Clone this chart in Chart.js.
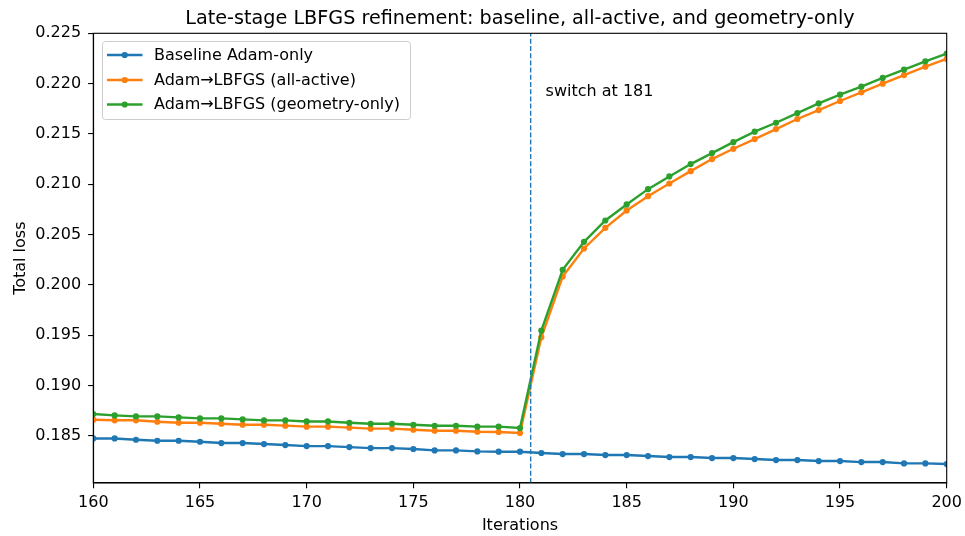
<!DOCTYPE html>
<html>
<head>
<meta charset="utf-8">
<script src="https://cdn.jsdelivr.net/npm/chart.js@4.4.1/dist/chart.umd.min.js"></script>
<style>
  html, body { margin: 0; padding: 0; background: #fff; }
  #wrap { width: 965px; height: 536px; }
</style>
</head>
<body>
<div id="wrap"><canvas id="c" width="965" height="536"></canvas></div>
<script>
// ---- Data ----
const iterations = [160,161,162,163,164,165,166,167,168,169,170,171,172,173,174,175,176,177,178,179,180,
                    181,182,183,184,185,186,187,188,189,190,191,192,193,194,195,196,197,198,199,200];
const baseline = [0.18473,0.18473,0.18460,0.18450,0.18450,0.18440,0.18427,0.18427,0.18417,0.18407,0.18397,
                  0.18397,0.18387,0.18377,0.18377,0.18368,0.18354,0.18354,0.18344,0.18341,0.18341,
                  0.18328,0.18318,0.18318,0.18308,0.18308,0.18298,0.18288,0.18288,0.18278,0.18278,
                  0.18268,0.18258,0.18258,0.18248,0.18248,0.18238,0.18238,0.18225,0.18225,0.18219];
const allActive = [0.18659,0.18653,0.18653,0.18639,0.18629,0.18629,0.18619,0.18609,0.18609,0.18600,0.18590,
                   0.18590,0.18580,0.18570,0.18570,0.18560,0.18550,0.18550,0.18540,0.18537,0.18527,
                   0.19478,0.20082,0.20361,0.20566,0.20739,0.20881,0.21007,0.21130,0.21250,0.21352,
                   0.21449,0.21548,0.21648,0.21737,0.21827,0.21913,0.21999,0.22085,0.22168,0.22245];
const geometryOnly = [0.18716,0.18702,0.18692,0.18692,0.18682,0.18672,0.18672,0.18662,0.18652,0.18652,0.18642,
                      0.18642,0.18629,0.18619,0.18619,0.18609,0.18599,0.18599,0.18590,0.18590,0.18576,
                      0.19545,0.20149,0.20427,0.20639,0.20799,0.20951,0.21077,0.21200,0.21309,0.21418,
                      0.21522,0.21611,0.21707,0.21803,0.21890,0.21969,0.22056,0.22138,0.22221,0.22298];
const seriesLabels = ['Baseline Adam-only', 'Adam\u2192LBFGS (all-active)', 'Adam\u2192LBFGS (geometry-only)'];
const xTicks = [160,165,170,175,180,185,190,195,200];
const yTicks = [0.185,0.190,0.195,0.200,0.205,0.210,0.215,0.220,0.225];
const switchX = 180.5;
const annotationText = 'switch at 181';
const annotationX = 181.2;
const annotationY = 0.2188;
const titleText = 'Late-stage LBFGS refinement: baseline, all-active, and geometry-only';
const xLabel = 'Iterations';
const yLabel = 'Total loss';
const xMin = 160, xMax = 200, yMin = 0.1803, yMax = 0.225;

// ---- Style ----
const colors = ['#1f77b4', '#ff7f0e', '#2ca02c'];
const FONT = 'DejaVu Sans';
const tickFontSize = 16;
const lw = 2.4, pr = 3.1;

const toPts = (ys) => iterations.map((x, i) => ({ x: x, y: ys[i] }));
const mk = (i, ys, order) => ({
  label: seriesLabels[i], data: toPts(ys), borderColor: colors[i], backgroundColor: colors[i],
  borderWidth: lw, pointRadius: pr, pointHoverRadius: pr, pointBorderWidth: 0,
  tension: 0, clip: 0, order: order
});

const framePlugin = {
  id: 'frame',
  afterDraw(chart) {
    const ctx = chart.ctx, a = chart.chartArea;
    const xs = chart.scales.x, ys = chart.scales.y;
    ctx.save();
    // spines
    ctx.strokeStyle = '#000'; ctx.lineWidth = 1.1;
    ctx.strokeRect(a.left, a.top, a.right - a.left, a.bottom - a.top);
    // title
    ctx.fillStyle = '#000';
    ctx.font = '19.2px "' + FONT + '"';
    ctx.textAlign = 'center'; ctx.textBaseline = 'alphabetic';
    ctx.fillText(titleText, (a.left + a.right) / 2, 24);
    // axis labels
    ctx.font = tickFontSize + 'px "' + FONT + '"';
    ctx.fillText(xLabel, (a.left + a.right) / 2, 530);
    ctx.save();
    ctx.translate(25, (a.top + a.bottom) / 2);
    ctx.rotate(-Math.PI / 2);
    ctx.fillText(yLabel, 0, 0);
    ctx.restore();
    // annotation
    ctx.textAlign = 'left';
    ctx.fillText(annotationText, xs.getPixelForValue(annotationX), ys.getPixelForValue(annotationY));
    // legend
    const bx = 102.5, by = 41.5, bw = 308, bh = 78;
    ctx.beginPath();
    ctx.roundRect(bx, by, bw, bh, 3);
    ctx.fillStyle = 'rgba(255,255,255,0.8)'; ctx.fill();
    ctx.strokeStyle = '#cccccc'; ctx.lineWidth = 1; ctx.stroke();
    const rows = [55, 80, 104.5];
    chart.data.datasets.slice(0, 3).forEach((ds, i) => {
      const y = rows[i];
      ctx.strokeStyle = ds.borderColor; ctx.lineWidth = lw;
      ctx.beginPath(); ctx.moveTo(107, y); ctx.lineTo(142.5, y); ctx.stroke();
      ctx.fillStyle = ds.borderColor;
      ctx.beginPath(); ctx.arc(124.7, y, pr, 0, Math.PI * 2); ctx.fill();
      ctx.fillStyle = '#000'; ctx.textBaseline = 'middle';
      ctx.fillText(ds.label, 154, y + 0.5);
    });
    ctx.restore();
  }
};

new Chart(document.getElementById('c'), {
  type: 'line',
  data: {
    datasets: [
      mk(0, baseline, 3),
      mk(1, allActive, 2),
      mk(2, geometryOnly, 1),
      { label: 'switch', data: [{ x: switchX, y: yMin }, { x: switchX, y: yMax }],
        borderColor: colors[0], borderWidth: 1.4, borderDash: [5, 2.2], pointRadius: 0, clip: 0, order: 0 }
    ]
  },
  options: {
    responsive: false, animation: false, devicePixelRatio: 1,
    layout: { padding: { left: 0, right: 18.3, top: 33.3, bottom: 0 } },
    plugins: { legend: { display: false }, title: { display: false }, tooltip: { enabled: false } },
    scales: {
      x: {
        type: 'linear', min: xMin, max: xMax,
        afterBuildTicks: (s) => { s.ticks = xTicks.map(v => ({ value: v })); },
        afterFit: (s) => { s.height = 536 - 483; s.paddingLeft = 0; s.paddingRight = 0; },
        ticks: { color: '#000', font: { family: FONT, size: tickFontSize }, padding: 5, maxRotation: 0,
                 callback: (v) => String(v) },
        grid: { drawOnChartArea: false, drawTicks: true, tickLength: 5.2, color: '#000', lineWidth: 1.1 },
        border: { display: true, color: '#000', width: 1.1 }
      },
      y: {
        type: 'linear', min: yMin, max: yMax,
        afterBuildTicks: (s) => { s.ticks = yTicks.map(v => ({ value: v })); },
        afterFit: (s) => { s.width = 93.3; s.paddingTop = 0; s.paddingBottom = 0; },
        ticks: { color: '#000', font: { family: FONT, size: tickFontSize }, padding: 7,
                 callback: (v) => Number(v).toFixed(3) },
        grid: { drawOnChartArea: false, drawTicks: true, tickLength: 5.2, color: '#000', lineWidth: 1.1 },
        border: { display: true, color: '#000', width: 1.1 }
      }
    }
  },
  plugins: [framePlugin]
});
</script>
</body>
</html>
